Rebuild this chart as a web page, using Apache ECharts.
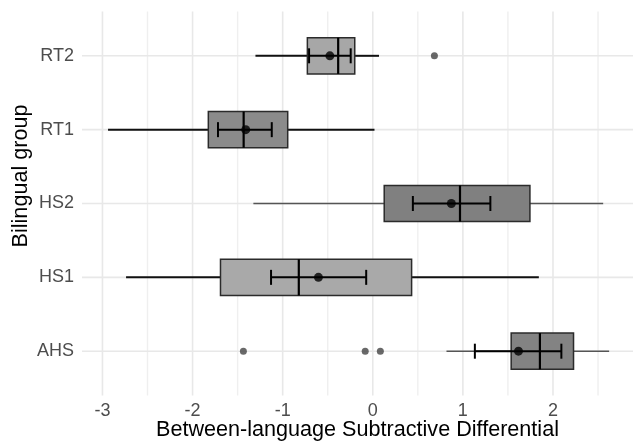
<!DOCTYPE html>
<html><head><meta charset="utf-8">
<script src="https://cdn.jsdelivr.net/npm/echarts@6/dist/echarts.min.js"></script>
<style>html,body{margin:0;padding:0;background:#fff}#c{width:633px;height:444px}</style>
</head><body><div id="c"></div>
<script>
// ---- data ----
const categories  = ['AHS', 'HS1', 'HS2', 'RT1', 'RT2'];
const whiskerLow  = [0.818, -2.738, -1.325, -2.938, -1.302];
const q1          = [1.536, -1.690, 0.127, -1.825, -0.726];
const median      = [1.855, -0.821, 0.968, -1.433, -0.384];
const q3          = [2.228, 0.431, 1.744, -0.944, -0.200];
const whiskerHigh = [2.623, 1.843, 2.557, 0.019, 0.069];
const means       = [1.617, -0.603, 0.872, -1.410, -0.476];
const ciLow       = [1.133, -1.129, 0.445, -1.718, -0.707];
const ciHigh      = [2.093, -0.073, 1.305, -1.121, -0.245];
const outlierGroup = ['AHS', 'AHS', 'AHS', 'RT2'];
const outlierValue = [-1.436, -0.084, 0.084, 0.684];
const xMajorTicks = [-3, -2, -1, 0, 1, 2];
const xMinorTicks = [-2.5, -1.5, -0.5, 0.5, 1.5, 2.5];
const xTitle = 'Between-language Subtractive Differential';
const yTitle = 'Bilingual group';

// ---- styles ----
const boxFill = ['#838383', '#a9a9a9', '#808080', '#8b8b8b', '#a7a7a7'];
const whiskerColor = ['#555555', '#111111', '#555555', '#111111', '#111111'];
const whiskerWidth = [1.5, 2, 1.5, 2, 2];
const FONT = "'Liberation Sans', Arial, sans-serif";

const boxData = categories.map((c, i) => [i, whiskerLow[i], q1[i], median[i], q3[i], whiskerHigh[i]]);
const ebData = categories.map((c, i) => [i, ciLow[i], ciHigh[i]]);
const meanData = categories.map((c, i) => [means[i], i]);
const outData = outlierGroup.map((g, k) => [outlierValue[k], categories.indexOf(g)]);
const vGrid = xMajorTicks.map(v => [v, 1]).concat(xMinorTicks.map(v => [v, 0]));
const hGrid = categories.map((c, i) => [i]);

function renderVGrid(params, api) {
  const cs = params.coordSys;
  const x = api.coord([api.value(0), 0])[0];
  const major = api.value(1) === 1;
  return { type: 'line', shape: { x1: x, y1: cs.y, x2: x, y2: cs.y + cs.height },
    style: { stroke: major ? '#e8e8e8' : '#efefef', lineWidth: major ? 1.6 : 1.4 } };
}
function renderHGrid(params, api) {
  const cs = params.coordSys;
  const y = api.coord([0, api.value(0)])[1];
  return { type: 'line', shape: { x1: cs.x, y1: y, x2: cs.x + cs.width, y2: y },
    style: { stroke: '#e8e8e8', lineWidth: 1.6 } };
}
function renderBox(params, api) {
  const i = api.value(0);
  const h = api.size([0, 1])[1] * 0.49;
  const pWL = api.coord([api.value(1), i]);
  const pQ1 = api.coord([api.value(2), i]);
  const pMd = api.coord([api.value(3), i]);
  const pQ3 = api.coord([api.value(4), i]);
  const pWH = api.coord([api.value(5), i]);
  const y = pQ1[1];
  return { type: 'group', children: [
    { type: 'line', shape: { x1: pWL[0], y1: y, x2: pQ1[0], y2: y }, style: { stroke: whiskerColor[i], lineWidth: whiskerWidth[i] } },
    { type: 'line', shape: { x1: pQ3[0], y1: y, x2: pWH[0], y2: y }, style: { stroke: whiskerColor[i], lineWidth: whiskerWidth[i] } },
    { type: 'rect', shape: { x: pQ1[0], y: y - h / 2, width: pQ3[0] - pQ1[0], height: h },
      style: { fill: boxFill[i], stroke: '#2b2b2b', lineWidth: 1.5 } },
    { type: 'line', shape: { x1: pMd[0], y1: y - h / 2, x2: pMd[0], y2: y + h / 2 }, style: { stroke: '#000', lineWidth: 2.2 } }
  ]};
}
function renderEB(params, api) {
  const i = api.value(0);
  const a = api.coord([api.value(1), i]);
  const b = api.coord([api.value(2), i]);
  const c = 7.5;
  return { type: 'group', children: [
    { type: 'line', shape: { x1: a[0], y1: a[1], x2: b[0], y2: b[1] }, style: { stroke: '#000', lineWidth: 2 } },
    { type: 'line', shape: { x1: a[0], y1: a[1] - c, x2: a[0], y2: a[1] + c }, style: { stroke: '#000', lineWidth: 2 } },
    { type: 'line', shape: { x1: b[0], y1: b[1] - c, x2: b[0], y2: b[1] + c }, style: { stroke: '#000', lineWidth: 2 } }
  ]};
}

const chart = echarts.init(document.getElementById('c'), null, { renderer: 'canvas' });
chart.setOption({
  animation: false,
  backgroundColor: '#ffffff',
  grid: { left: 82, right: 0, top: 11.5, bottom: 48.5, containLabel: false, outerBoundsMode: 'none' },
  xAxis: {
    type: 'value', min: -3.227, max: 2.888,
    axisLine: { show: false }, axisTick: { show: false }, splitLine: { show: false },
    axisLabel: { margin: 7, color: '#4d4d4d', fontSize: 18, fontFamily: FONT,
      showMinLabel: false, showMaxLabel: false,
      formatter: v => (xMajorTicks.indexOf(Math.round(v * 1000) / 1000) >= 0 ? String(Math.round(v)) : '') },
    name: xTitle, nameLocation: 'middle', nameGap: 24, nameMoveOverlap: false,
    nameTextStyle: { color: '#000', fontSize: 21.6, fontFamily: FONT }
  },
  yAxis: {
    type: 'value', min: -0.6, max: 4.6,
    axisLine: { show: false }, axisTick: { show: false }, splitLine: { show: false },
    axisLabel: { margin: 8, color: '#4d4d4d', fontSize: 18, fontFamily: FONT,
      showMinLabel: false, showMaxLabel: false,
      formatter: v => { const r = Math.round(v); return Math.abs(v - r) < 1e-6 && categories[r] ? categories[r] : ''; } }
  },
  graphic: [{
    type: 'text', x: 21, y: 176, rotation: Math.PI / 2,
    style: { text: yTitle, font: '21.6px ' + FONT, fill: '#000', align: 'center', verticalAlign: 'middle' }
  }],
  series: [
    { type: 'custom', renderItem: renderVGrid, data: vGrid, encode: { x: 0 }, z: 0, silent: true, clip: false },
    { type: 'custom', renderItem: renderHGrid, data: hGrid, encode: { y: 0 }, z: 0, silent: true, clip: false },
    { type: 'custom', renderItem: renderBox, data: boxData, encode: { x: [1, 2, 3, 4, 5], y: 0 }, z: 2 },
    { type: 'custom', renderItem: renderEB, data: ebData, encode: { x: [1, 2], y: 0 }, z: 3 },
    { type: 'scatter', data: meanData, symbol: 'circle', symbolSize: 9, itemStyle: { color: '#000' }, z: 4 },
    { type: 'scatter', data: outData, symbol: 'circle', symbolSize: 7, itemStyle: { color: '#444' }, z: 4 }
  ]
});
</script>
</body></html>
